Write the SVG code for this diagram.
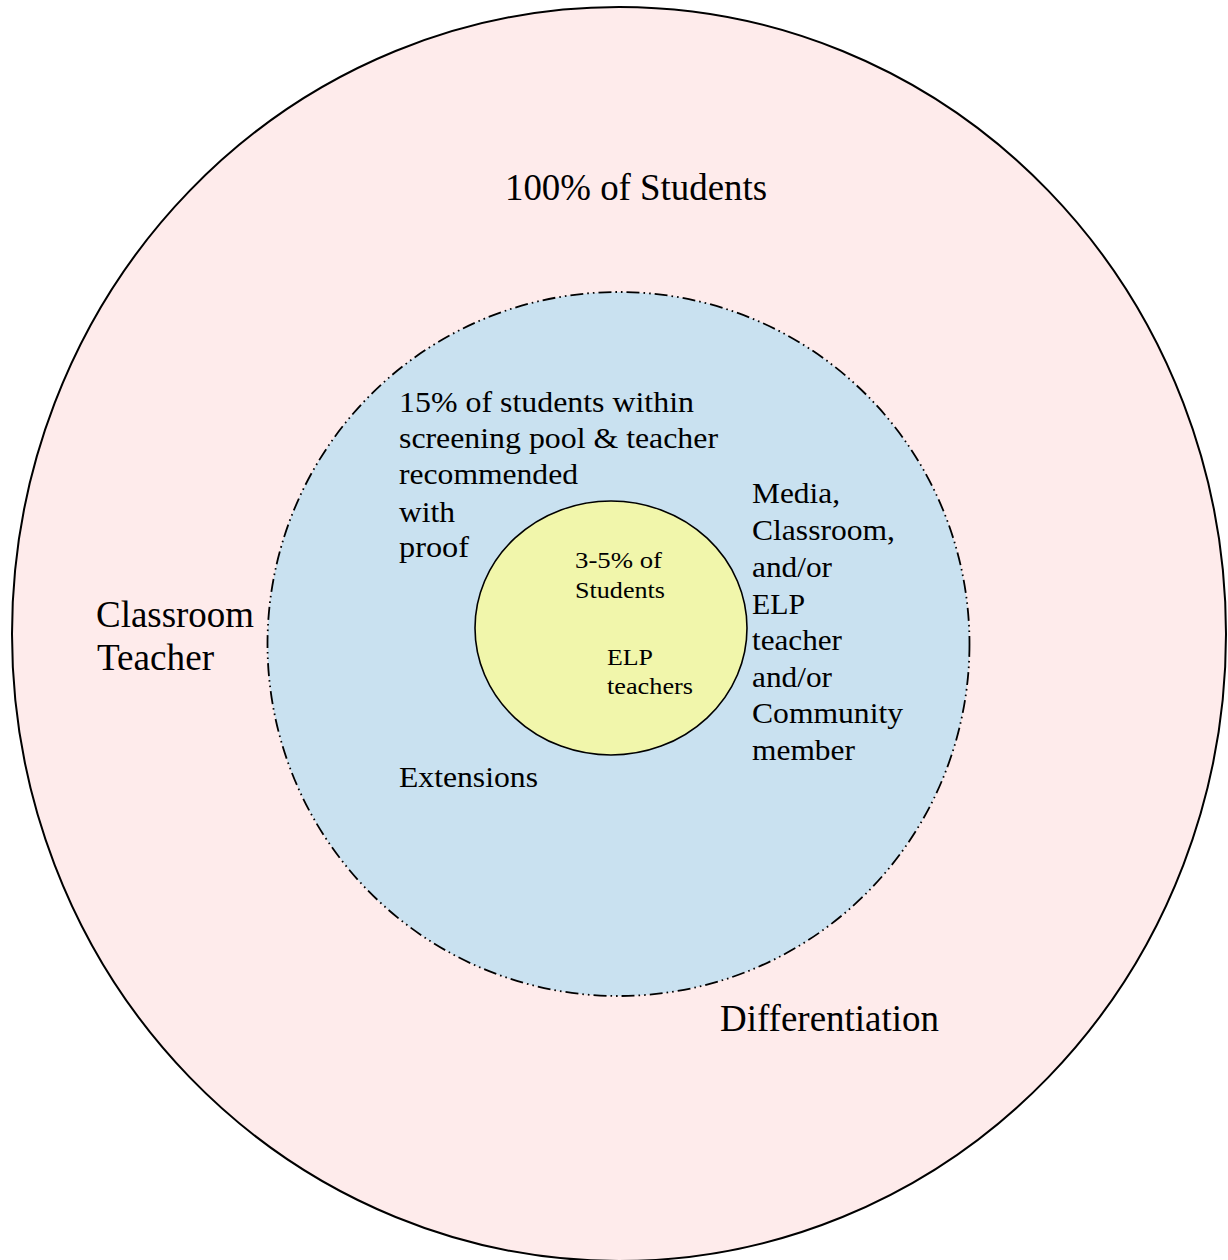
<svg xmlns="http://www.w3.org/2000/svg" width="1228" height="1260" viewBox="0 0 1228 1260">
<style>
.t{font-family:"Liberation Serif","Times New Roman",serif;fill:#000}
.big{font-size:37px}
.mid{font-size:29px}
.sm{font-size:23px}
</style>
<rect width="1228" height="1260" fill="#ffffff"/>
<g id="outer">
<ellipse cx="619" cy="634" rx="607" ry="627" fill="#feebeb" stroke="#000" stroke-width="2"/>
<text class="t big" x="505" y="200" textLength="262" lengthAdjust="spacingAndGlyphs">100% of Students</text>
<text class="t big" x="96" y="627" textLength="158" lengthAdjust="spacingAndGlyphs">Classroom</text>
<text class="t big" x="97" y="670" textLength="117" lengthAdjust="spacingAndGlyphs">Teacher</text>
<text class="t big" x="720" y="1031" textLength="219" lengthAdjust="spacingAndGlyphs">Differentiation</text>
</g>
<g id="middle">
<ellipse cx="618.5" cy="644" rx="351" ry="352" fill="#c9e1f0" stroke="#000" stroke-width="1.8" stroke-dasharray="13 4 1.6 4 1.6 4"/>
<text class="t mid" x="399" y="412" textLength="295" lengthAdjust="spacingAndGlyphs">15% of students within</text>
<text class="t mid" x="399" y="448" textLength="319" lengthAdjust="spacingAndGlyphs">screening pool &amp; teacher</text>
<text class="t mid" x="399" y="484" textLength="179" lengthAdjust="spacingAndGlyphs">recommended</text>
<text class="t mid" x="399" y="522" textLength="56" lengthAdjust="spacingAndGlyphs">with</text>
<text class="t mid" x="399" y="557" textLength="70" lengthAdjust="spacingAndGlyphs">proof</text>
<text class="t mid" x="399" y="787" textLength="139" lengthAdjust="spacingAndGlyphs">Extensions</text>
<text class="t mid" x="752" y="503" textLength="88" lengthAdjust="spacingAndGlyphs">Media,</text>
<text class="t mid" x="752" y="540" textLength="143" lengthAdjust="spacingAndGlyphs">Classroom,</text>
<text class="t mid" x="752" y="577" textLength="80" lengthAdjust="spacingAndGlyphs">and/or</text>
<text class="t mid" x="752" y="614" textLength="53" lengthAdjust="spacingAndGlyphs">ELP</text>
<text class="t mid" x="752" y="650" textLength="90" lengthAdjust="spacingAndGlyphs">teacher</text>
<text class="t mid" x="752" y="687" textLength="80" lengthAdjust="spacingAndGlyphs">and/or</text>
<text class="t mid" x="752" y="723" textLength="151" lengthAdjust="spacingAndGlyphs">Community</text>
<text class="t mid" x="752" y="760" textLength="103" lengthAdjust="spacingAndGlyphs">member</text>
</g>
<g id="inner">
<ellipse cx="611" cy="628" rx="136" ry="127" fill="#f1f6ab" stroke="#000" stroke-width="1.6"/>
<text class="t sm" x="575" y="568" textLength="87" lengthAdjust="spacingAndGlyphs">3-5% of</text>
<text class="t sm" x="575" y="598" textLength="90" lengthAdjust="spacingAndGlyphs">Students</text>
<text class="t sm" x="607" y="665" textLength="46" lengthAdjust="spacingAndGlyphs">ELP</text>
<text class="t sm" x="607" y="694" textLength="86" lengthAdjust="spacingAndGlyphs">teachers</text>
</g>
<g id="connectors"></g>
</svg>
